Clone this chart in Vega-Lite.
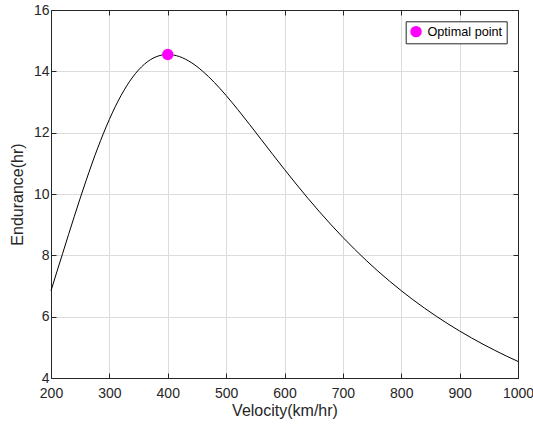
{
  "$schema": "https://vega.github.io/schema/vega-lite/v6.json",
  "width": 467,
  "height": 368,
  "autosize": "none",
  "padding": {"left": 51, "top": 10, "right": 15, "bottom": 47},
  "background": "white",
  "config": {
    "font": "Liberation Sans",
    "view": {"stroke": "#262626", "strokeWidth": 1},
    "axis": {
      "domainColor": "#262626",
      "tickColor": "#262626",
      "labelColor": "#262626",
      "titleColor": "#262626",
      "labelFont": "Liberation Sans",
      "titleFont": "Liberation Sans",
      "labelFontSize": 14,
      "titleFontSize": 16,
      "titleFontWeight": "normal",
      "labelFlush": false,
      "labelOverlap": false,
      "format": "d",
      "gridColor": "#dcdcdc",
      "gridWidth": 1,
      "tickSize": -5,
      "domainWidth": 1
    }
  },
  "resolve": {"axis": {"x": "independent", "y": "independent"}},
  "layer": [
    {
      "data": {"values": [
        {"V": 200, "E": 6.847},
        {"V": 210, "E": 7.46},
        {"V": 220, "E": 8.065},
        {"V": 240, "E": 9.274},
        {"V": 260, "E": 10.432},
        {"V": 280, "E": 11.498},
        {"V": 300, "E": 12.434},
        {"V": 320, "E": 13.212},
        {"V": 340, "E": 13.814},
        {"V": 360, "E": 14.233},
        {"V": 380, "E": 14.474},
        {"V": 400, "E": 14.55},
        {"V": 420, "E": 14.481},
        {"V": 440, "E": 14.29},
        {"V": 460, "E": 14.0},
        {"V": 480, "E": 13.634},
        {"V": 500, "E": 13.212},
        {"V": 520, "E": 12.754},
        {"V": 540, "E": 12.272},
        {"V": 560, "E": 11.78},
        {"V": 580, "E": 11.287},
        {"V": 600, "E": 10.8},
        {"V": 620, "E": 10.324},
        {"V": 640, "E": 9.862},
        {"V": 660, "E": 9.418},
        {"V": 680, "E": 8.993},
        {"V": 700, "E": 8.587},
        {"V": 720, "E": 8.2},
        {"V": 740, "E": 7.834},
        {"V": 760, "E": 7.486},
        {"V": 780, "E": 7.158},
        {"V": 800, "E": 6.847},
        {"V": 820, "E": 6.553},
        {"V": 840, "E": 6.276},
        {"V": 860, "E": 6.014},
        {"V": 880, "E": 5.766},
        {"V": 900, "E": 5.532},
        {"V": 920, "E": 5.311},
        {"V": 940, "E": 5.102},
        {"V": 960, "E": 4.904},
        {"V": 980, "E": 4.717},
        {"V": 1000, "E": 4.54}
      ]},
      "mark": {"type": "line", "color": "black", "strokeWidth": 1, "interpolate": "monotone"},
      "encoding": {
        "x": {
          "field": "V", "type": "quantitative",
          "scale": {"domain": [200, 1000], "nice": false, "zero": false},
          "axis": {"orient": "bottom", "values": [200, 300, 400, 500, 600, 700, 800, 900, 1000], "title": "Velocity(km/hr)", "labelPadding": 13, "titlePadding": 2}
        },
        "y": {
          "field": "E", "type": "quantitative",
          "scale": {"domain": [4, 16], "nice": false, "zero": false},
          "axis": {"orient": "left", "values": [4, 6, 8, 10, 12, 14, 16], "title": "Endurance(hr)", "labelPadding": 7, "titlePadding": 8}
        }
      }
    },
    {
      "data": {"values": [{"V": 400, "E": 14.55}]},
      "mark": {"type": "point", "filled": true, "shape": "circle", "size": 130, "opacity": 1},
      "encoding": {
        "x": {
          "field": "V", "type": "quantitative",
          "axis": {"orient": "top", "values": [200, 300, 400, 500, 600, 700, 800, 900, 1000], "labels": false, "title": null, "grid": false}
        },
        "y": {
          "field": "E", "type": "quantitative",
          "axis": {"orient": "right", "values": [4, 6, 8, 10, 12, 14, 16], "labels": false, "title": null, "grid": false}
        },
        "color": {
          "datum": "Optimal point",
          "type": "nominal",
          "scale": {"range": ["#FF00FF"]},
          "legend": {
            "title": null,
            "orient": "none",
            "legendX": 354.7,
            "legendY": 11.3,
            "fillColor": "white",
            "strokeColor": "#262626",
            "padding": 4,
            "symbolSize": 130,
            "symbolType": "circle",
            "symbolStrokeWidth": 0,
            "symbolOffset": 0,
            "labelOffset": 5,
            "labelFontSize": 12.7,
            "labelColor": "black",
            "labelFont": "Liberation Sans",
            "cornerRadius": 0
          }
        }
      }
    }
  ]
}
